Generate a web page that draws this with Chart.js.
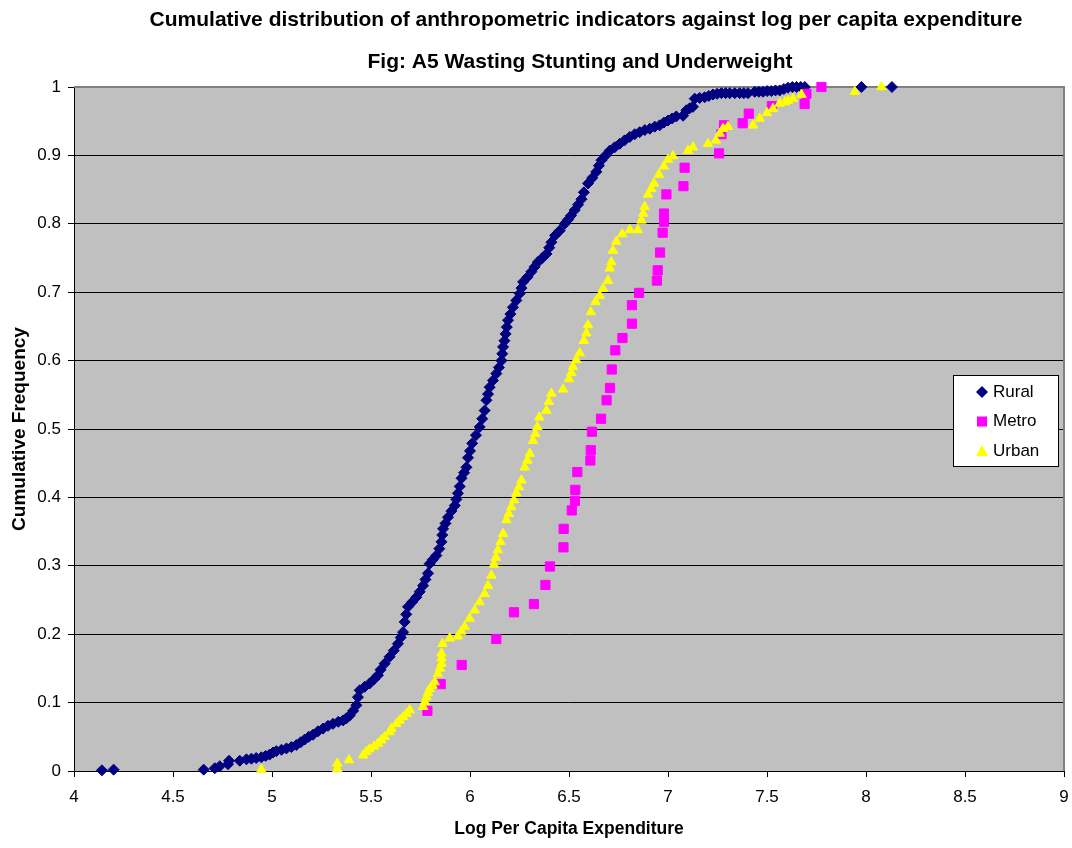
<!DOCTYPE html>
<html>
<head>
<meta charset="utf-8">
<title>Cumulative distribution of anthropometric indicators</title>
<script src="https://cdn.jsdelivr.net/npm/chart.js@4.4.0/dist/chart.umd.min.js"></script>
<style>
    html, body { margin: 0; padding: 0; background: #fff; }
</style>
</head>
<body>
<canvas id="myChart" width="1072" height="848"></canvas>
<script>
// titles
const titleLine1 = 'Cumulative distribution of anthropometric indicators against log per capita expenditure';
const titleLine2 = 'Fig: A5 Wasting Stunting and Underweight';
const xTitle = 'Log Per Capita Expenditure';
const yTitle = 'Cumulative Frequency';

// tick labels
const xTickValues = [4, 4.5, 5, 5.5, 6, 6.5, 7, 7.5, 8, 8.5, 9];
const yTickValues = [0, 0.1, 0.2, 0.3, 0.4, 0.5, 0.6, 0.7, 0.8, 0.9, 1];

// [log per capita expenditure, cumulative frequency]
const rural = [
    [4.141, 0.001], [4.200, 0.002], [4.655, 0.002], [4.711, 0.004], [4.736, 0.007], [4.778, 0.010],
    [4.783, 0.015], [4.837, 0.015], [4.871, 0.017], [4.896, 0.018], [4.920, 0.019], [4.946, 0.020],
    [4.968, 0.022], [4.988, 0.024], [5.005, 0.027], [5.022, 0.029], [5.048, 0.031], [5.073, 0.033],
    [5.098, 0.035], [5.123, 0.038], [5.145, 0.042], [5.165, 0.046], [5.186, 0.050], [5.207, 0.053],
    [5.232, 0.058], [5.258, 0.062], [5.283, 0.066], [5.308, 0.069], [5.335, 0.072], [5.359, 0.074],
    [5.376, 0.077], [5.392, 0.081], [5.410, 0.088], [5.426, 0.096], [5.434, 0.108], [5.443, 0.118],
    [5.468, 0.123], [5.493, 0.128], [5.515, 0.134], [5.535, 0.140], [5.548, 0.148], [5.569, 0.157],
    [5.594, 0.167], [5.615, 0.176], [5.636, 0.186], [5.650, 0.195], [5.662, 0.203], [5.670, 0.218],
    [5.678, 0.229], [5.687, 0.240], [5.708, 0.247], [5.729, 0.254], [5.746, 0.262], [5.763, 0.271],
    [5.775, 0.280], [5.788, 0.289], [5.796, 0.303], [5.812, 0.309], [5.830, 0.315], [5.845, 0.325],
    [5.856, 0.335], [5.860, 0.345], [5.864, 0.354], [5.876, 0.362], [5.889, 0.371], [5.906, 0.380],
    [5.923, 0.388], [5.931, 0.397], [5.939, 0.406], [5.948, 0.416], [5.957, 0.428], [5.970, 0.436],
    [5.982, 0.444], [5.990, 0.458], [6.000, 0.468], [6.011, 0.479], [6.030, 0.491], [6.049, 0.503],
    [6.062, 0.515], [6.074, 0.527], [6.083, 0.542], [6.091, 0.551], [6.099, 0.561], [6.116, 0.571],
    [6.133, 0.581], [6.146, 0.590], [6.159, 0.600], [6.163, 0.610], [6.167, 0.620], [6.174, 0.629],
    [6.180, 0.639], [6.186, 0.649], [6.192, 0.659], [6.204, 0.668], [6.217, 0.678], [6.234, 0.688],
    [6.251, 0.698], [6.260, 0.706], [6.268, 0.715], [6.290, 0.722], [6.310, 0.730], [6.326, 0.737],
    [6.343, 0.744], [6.365, 0.750], [6.386, 0.756], [6.400, 0.765], [6.411, 0.773], [6.430, 0.783],
    [6.453, 0.790], [6.478, 0.800], [6.495, 0.806], [6.510, 0.812], [6.529, 0.820], [6.546, 0.828],
    [6.563, 0.836], [6.575, 0.846], [6.596, 0.859], [6.617, 0.867], [6.638, 0.876], [6.651, 0.885],
    [6.664, 0.893], [6.685, 0.900], [6.706, 0.907], [6.731, 0.912], [6.756, 0.917], [6.781, 0.922],
    [6.807, 0.927], [6.832, 0.931], [6.857, 0.934], [6.883, 0.937], [6.908, 0.939], [6.933, 0.942],
    [6.958, 0.944], [6.979, 0.948], [7.000, 0.951], [7.021, 0.954], [7.042, 0.957], [7.076, 0.958],
    [7.093, 0.966], [7.110, 0.969], [7.126, 0.971], [7.135, 0.983], [7.160, 0.984], [7.185, 0.985],
    [7.206, 0.987], [7.227, 0.989], [7.248, 0.990], [7.270, 0.991], [7.291, 0.991], [7.312, 0.991],
    [7.337, 0.991], [7.362, 0.991], [7.383, 0.991], [7.404, 0.991], [7.438, 0.993], [7.459, 0.993],
    [7.480, 0.993], [7.501, 0.994], [7.522, 0.994], [7.543, 0.995], [7.564, 0.995], [7.585, 0.997],
    [7.606, 0.999], [7.628, 1.000], [7.649, 1.000], [7.670, 1.000], [7.691, 1.000], [7.977, 1.000],
    [8.131, 1.000],
];

const metro = [
    [5.785, 0.088], [5.852, 0.127], [5.958, 0.155], [6.133, 0.193], [6.222, 0.232], [6.323, 0.244],
    [6.381, 0.272], [6.404, 0.299], [6.472, 0.327], [6.473, 0.354], [6.514, 0.381], [6.530, 0.395],
    [6.532, 0.411], [6.542, 0.437], [6.608, 0.454], [6.610, 0.469], [6.616, 0.496], [6.662, 0.515],
    [6.690, 0.542], [6.707, 0.560], [6.716, 0.587], [6.734, 0.615], [6.770, 0.633], [6.818, 0.654],
    [6.818, 0.681], [6.854, 0.699], [6.944, 0.717], [6.948, 0.732], [6.960, 0.758], [6.973, 0.787],
    [6.980, 0.803], [6.980, 0.815], [6.992, 0.843], [7.078, 0.855], [7.084, 0.882], [7.258, 0.903],
    [7.270, 0.931], [7.283, 0.944], [7.377, 0.947], [7.408, 0.961], [7.525, 0.972], [7.690, 0.975],
    [7.699, 0.990], [7.775, 1.000],
];

const urban = [
    [4.946, 0.002], [5.330, 0.003], [5.330, 0.011], [5.389, 0.016], [5.460, 0.023], [5.476, 0.028],
    [5.493, 0.032], [5.515, 0.036], [5.535, 0.040], [5.552, 0.045], [5.569, 0.050], [5.594, 0.057],
    [5.603, 0.062], [5.628, 0.069], [5.645, 0.074], [5.662, 0.079], [5.680, 0.084], [5.696, 0.089],
    [5.763, 0.094], [5.772, 0.101], [5.780, 0.108], [5.788, 0.114], [5.796, 0.120], [5.810, 0.125],
    [5.822, 0.130], [5.838, 0.142], [5.848, 0.150], [5.856, 0.157], [5.856, 0.165], [5.856, 0.172],
    [5.861, 0.186], [5.898, 0.194], [5.939, 0.197], [5.956, 0.204], [5.973, 0.211], [5.998, 0.223],
    [6.024, 0.235], [6.049, 0.247], [6.074, 0.259], [6.091, 0.271], [6.108, 0.286], [6.121, 0.302],
    [6.131, 0.312], [6.141, 0.323], [6.154, 0.335], [6.167, 0.347], [6.184, 0.367], [6.196, 0.376],
    [6.209, 0.386], [6.222, 0.396], [6.234, 0.406], [6.247, 0.415], [6.260, 0.425], [6.276, 0.444],
    [6.290, 0.454], [6.302, 0.464], [6.318, 0.483], [6.330, 0.493], [6.340, 0.503], [6.350, 0.517],
    [6.386, 0.527], [6.398, 0.540], [6.411, 0.552], [6.470, 0.558], [6.500, 0.573], [6.512, 0.582],
    [6.520, 0.591], [6.537, 0.601], [6.554, 0.611], [6.575, 0.629], [6.588, 0.640], [6.596, 0.652],
    [6.610, 0.671], [6.634, 0.686], [6.655, 0.695], [6.672, 0.705], [6.697, 0.717], [6.706, 0.735],
    [6.714, 0.744], [6.722, 0.761], [6.739, 0.774], [6.769, 0.785], [6.807, 0.791], [6.848, 0.791],
    [6.866, 0.805], [6.875, 0.815], [6.882, 0.825], [6.899, 0.843], [6.915, 0.851], [6.929, 0.859],
    [6.954, 0.872], [6.979, 0.884], [7.000, 0.894], [7.025, 0.899], [7.101, 0.907], [7.126, 0.912],
    [7.202, 0.917], [7.242, 0.922], [7.261, 0.932], [7.278, 0.939], [7.303, 0.942], [7.429, 0.944],
    [7.463, 0.954], [7.500, 0.962], [7.530, 0.968], [7.564, 0.976], [7.590, 0.978], [7.606, 0.980],
    [7.631, 0.983], [7.674, 0.989], [7.943, 0.993], [8.078, 1.000],
];

const toPoints = (rows) => rows.map(([x, y]) => ({ x, y }));

Chart.defaults.font.family = "'Liberation Sans', Arial, sans-serif";
Chart.defaults.color = '#000';

// grey plot area like the Excel original, with grey top/right frame
const plotArea = {
    id: 'plotArea',
    beforeDraw(chart) {
        const { ctx, chartArea: a } = chart;
        ctx.save();
        ctx.fillStyle = '#c0c0c0';
        ctx.fillRect(a.left, a.top, a.right - a.left, a.bottom - a.top);
        ctx.restore();
    },
    beforeDatasetsDraw(chart) {
        const { ctx, chartArea: a } = chart;
        ctx.save();
        ctx.strokeStyle = '#808080';
        ctx.lineWidth = 2;
        ctx.beginPath();
        ctx.moveTo(a.left, a.top);
        ctx.lineTo(a.right, a.top);
        ctx.lineTo(a.right, a.bottom);
        ctx.stroke();
        ctx.restore();
    },
};

// two centred title lines
const titles = {
    id: 'titles',
    afterDraw(chart) {
        const { ctx } = chart;
        ctx.save();
        ctx.fillStyle = '#000';
        ctx.textAlign = 'center';
        ctx.textBaseline = 'middle';
        ctx.font = "bold 21px 'Liberation Sans', Arial, sans-serif";
        ctx.fillText(titleLine1, 586, 20);
        ctx.fillText(titleLine2, 580, 62);
        ctx.restore();
    },
};

// boxed legend inside the plot area
const boxLegend = {
    id: 'boxLegend',
    afterDraw(chart) {
        const { ctx } = chart;
        const x = 953, y = 375, w = 105, h = 91;
        ctx.save();
        ctx.fillStyle = '#fff';
        ctx.fillRect(x, y, w, h);
        ctx.strokeStyle = '#000';
        ctx.lineWidth = 1;
        ctx.strokeRect(x + 0.5, y + 0.5, w, h);
        ctx.font = "17px 'Liberation Sans', Arial, sans-serif";
        ctx.textBaseline = 'middle';
        chart.data.datasets.forEach((ds, i) => {
            const cy = y + 17 + i * 29.5;
            const cx = 982;
            ctx.fillStyle = ds.backgroundColor;
            ctx.beginPath();
            if (ds.pointStyle === 'rectRot') {
                ctx.moveTo(cx - 6, cy);
                ctx.lineTo(cx, cy - 6);
                ctx.lineTo(cx + 6, cy);
                ctx.lineTo(cx, cy + 6);
            } else if (ds.pointStyle === 'rect') {
                ctx.rect(cx - 5, cy - 5, 10, 10);
            } else {
                ctx.moveTo(cx, cy - 6);
                ctx.lineTo(cx + 6, cy + 5);
                ctx.lineTo(cx - 6, cy + 5);
            }
            ctx.closePath();
            ctx.fill();
            ctx.fillStyle = '#000';
            ctx.fillText(ds.label, 993, cy);
        });
        ctx.restore();
    },
};

const ctx = document.getElementById('myChart');
new Chart(ctx, {
    type: 'scatter',
    data: {
        datasets: [
            {
                label: 'Rural',
                data: toPoints(rural),
                pointStyle: 'rectRot',
                pointRadius: 5.5,
                borderWidth: 1,
                backgroundColor: '#000080',
                borderColor: '#000080',
                order: 3,
                clip: false,
            },
            {
                label: 'Metro',
                data: toPoints(metro),
                pointStyle: 'rect',
                pointRadius: 6.5,
                borderWidth: 1,
                backgroundColor: '#ff00ff',
                borderColor: '#ff00ff',
                order: 2,
                clip: false,
            },
            {
                label: 'Urban',
                data: toPoints(urban),
                pointStyle: 'triangle',
                pointRadius: 5.5,
                borderWidth: 1,
                backgroundColor: '#ffff00',
                borderColor: '#ffff00',
                order: 1,
                clip: false,
            },
        ],
    },
    options: {
        responsive: false,
        animation: false,
        layout: { padding: { left: 0, right: 8, top: 87, bottom: 0 } },
        plugins: {
            legend: { display: false },
            title: { display: false },
            tooltip: { enabled: false },
        },
        scales: {
            x: {
                type: 'linear',
                min: 4,
                max: 9,
                afterBuildTicks: (scale) => {
                    scale.ticks = xTickValues.map((v) => ({ value: v }));
                },
                afterFit: (scale) => {
                    scale.height = 77;
                    scale.paddingLeft = 0;
                    scale.paddingRight = 0;
                },
                ticks: {
                    callback: (v) => String(v),
                    font: { size: 17 },
                    padding: 10,
                    maxRotation: 0,
                    autoSkip: false,
                },
                grid: {
                    drawOnChartArea: false,
                    tickLength: 6,
                    color: '#000',
                    tickColor: '#000',
                },
                border: { color: '#000', width: 1 },
                title: {
                    display: true,
                    text: xTitle,
                    font: { size: 17.5, weight: 'bold' },
                    padding: { top: 0, bottom: 8 },
                },
            },
            y: {
                type: 'linear',
                min: 0,
                max: 1,
                afterBuildTicks: (scale) => {
                    scale.ticks = yTickValues.map((v) => ({ value: v }));
                },
                afterFit: (scale) => {
                    scale.width = 74;
                    scale.paddingTop = 0;
                    scale.paddingBottom = 0;
                },
                ticks: {
                    callback: (v) => String(v),
                    font: { size: 17 },
                    padding: 7,
                    autoSkip: false,
                },
                grid: {
                    tickLength: 6,
                    color: (c) => (c.tick && c.tick.value === 1 ? '#808080' : '#000'),
                    tickColor: '#000',
                    lineWidth: 1,
                },
                border: { color: '#000', width: 1 },
                title: {
                    display: true,
                    text: yTitle,
                    font: { size: 19, weight: 'bold' },
                    padding: { top: 8.5, bottom: 0 },
                },
            },
        },
    },
    plugins: [plotArea, titles, boxLegend],
});
</script>
</body>
</html>
